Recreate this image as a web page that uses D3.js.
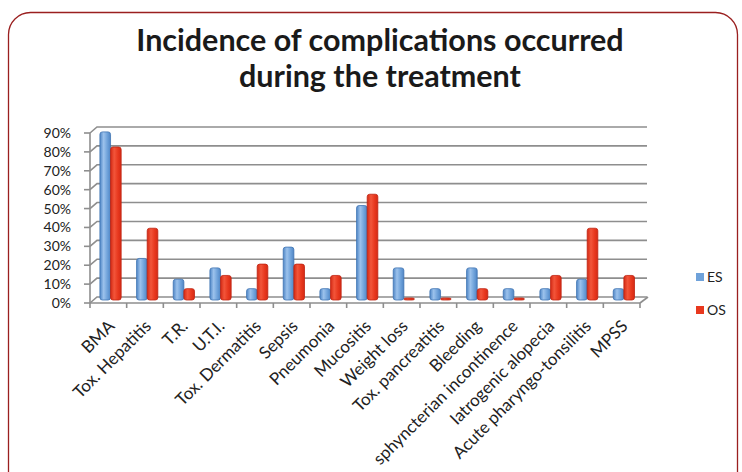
<!DOCTYPE html>
<html>
<head>
<meta charset="utf-8">
<script src="https://cdn.jsdelivr.net/npm/d3@7"></script>
<style>
  html, body { margin: 0; padding: 0; background: #fff; }
  svg { display: block; }
</style>
</head>
<body>
<script>
// Complication categories and incidence per group (fractions)
const categories = [
  "BMA", "Tox. Hepatitis", "T.R.", "U.T.I.", "Tox. Dermatitis", "Sepsis",
  "Pneumonia", "Mucositis", "Weight loss", "Tox. pancreatitis", "Bleeding",
  "sphyncterian incontinence", "Iatrogenic alopecia", "Acute pharyngo-tonsilitis", "MPSS"
];
const seriesNames = ["ES", "OS"];
const esValues = [0.89, 0.22, 0.11, 0.17, 0.06, 0.28, 0.06, 0.50, 0.17, 0.06, 0.17, 0.06, 0.06, 0.11, 0.06];
const osValues = [0.81, 0.38, 0.06, 0.13, 0.19, 0.19, 0.13, 0.56, 0.00, 0.00, 0.06, 0.00, 0.13, 0.38, 0.13];
const yTicks = [0, 0.1, 0.2, 0.3, 0.4, 0.5, 0.6, 0.7, 0.8, 0.9];
const titleLines = ["Incidence of complications occurred", "during the treatment"];

const W = 742, H = 472;
const svg = d3.select("body").append("svg").attr("width", W).attr("height", H);

// Frame
svg.append("rect")
  .attr("x", 8.5).attr("y", 12.5).attr("width", 729).attr("height", 500)
  .attr("rx", 22).attr("ry", 22)
  .attr("fill", "#fff").attr("stroke", "#9a1f1f").attr("stroke-width", 1.3);

// Title
svg.append("g").selectAll("text").data(titleLines).join("text")
  .attr("x", 380).attr("y", (d, i) => 51 + i * 36)
  .attr("text-anchor", "middle")
  .attr("font-family", "Lato, 'Open Sans', sans-serif")
  .attr("font-weight", "bold").attr("font-size", 30.5)
  .attr("fill", "#1a1a1a")
  .text(d => d);

// Scales
const x = d3.scaleBand().domain(categories).range([90, 640]).paddingInner(0).paddingOuter(0);
const y = d3.scaleLinear().domain([0, 0.9]).range([300, 130]);
const depthX = 7, depthY = -3; // back wall offset
const frontY = 3;               // front edge offset

const defs = svg.append("defs");
function cyl(id, edge, mid, light) {
  const g = defs.append("linearGradient").attr("id", id).attr("x1", 0).attr("x2", 1).attr("y1", 0).attr("y2", 0);
  g.append("stop").attr("offset", "0%").attr("stop-color", edge);
  g.append("stop").attr("offset", "35%").attr("stop-color", light);
  g.append("stop").attr("offset", "70%").attr("stop-color", mid);
  g.append("stop").attr("offset", "100%").attr("stop-color", edge);
}
cyl("gES", "#4f86c6", "#6fa2da", "#9cc2ec");
cyl("gOS", "#d42a14", "#e8381e", "#f2553a");
const fills = { ES: "url(#gES)", OS: "url(#gOS)" };
const strokes = { ES: "#3f74b3", OS: "#bf2311" };
const swatch = { ES: "#6fa2da", OS: "#e8381e" };

// Back wall gridlines with side-wall diagonal
const grid = svg.append("g").attr("stroke", "#8e8e8e").attr("stroke-width", 1.6).attr("fill", "none");
yTicks.forEach(v => {
  const gy = y(v) + depthY;
  grid.append("polyline")
    .attr("points", [[90, y(v) + frontY], [90 + depthX, gy], [x.range()[1] + depthX, gy]].map(p => p.join(",")).join(" "));
});

// Value axis (left edge) and ticks
const axis = svg.append("g").attr("stroke", "#8e8e8e").attr("stroke-width", 1.6);
axis.append("line").attr("x1", 90).attr("x2", 90).attr("y1", y(0.9) + frontY).attr("y2", y(0) + frontY);
yTicks.forEach(v => {
  axis.append("line").attr("x1", 84).attr("x2", 90).attr("y1", y(v) + frontY).attr("y2", y(v) + frontY);
});
svg.append("g").selectAll("text").data(yTicks).join("text")
  .attr("x", 71).attr("y", v => y(v) + frontY).attr("dy", "0.36em")
  .attr("text-anchor", "end")
  .attr("font-family", "Lato, 'Open Sans', sans-serif").attr("font-size", 14)
  .attr("fill", "#222")
  .text(d3.format(".0%"));

// Floor front edge, category ticks, right-hand floor diagonal
const floorY = y(0) + frontY;
axis.append("line").attr("x1", 90).attr("x2", x.range()[1]).attr("y1", floorY).attr("y2", floorY);
categories.concat([null]).forEach((c, i) => {
  const tx = c === null ? x.range()[1] : x(c);
  axis.append("line").attr("x1", tx).attr("x2", tx).attr("y1", floorY).attr("y2", floorY + 5);
});
axis.append("line").attr("x1", x.range()[1]).attr("x2", x.range()[1] + depthX + 1)
  .attr("y1", floorY).attr("y2", y(0) + depthY);

// Bars
const bw = x.bandwidth();
const barData = [];
categories.forEach((c, i) => {
  barData.push({ c, s: "ES", v: esValues[i], off: 0.27 });
  barData.push({ c, s: "OS", v: osValues[i], off: 0.56 });
});
svg.append("g").selectAll("rect").data(barData).join("rect")
  .attr("x", d => x(d.c) + bw * d.off)
  .attr("width", bw * 0.29)
  .attr("y", d => Math.min(y(d.v), y(0) - 2))
  .attr("height", d => Math.max(y(0) - y(d.v), 2))
  .attr("rx", 2.5).attr("ry", 2.5)
  .attr("fill", d => fills[d.s])
  .attr("stroke", d => strokes[d.s]).attr("stroke-width", 0.8);

// Category labels
svg.append("g").selectAll("text").data(categories).join("text")
  .attr("transform", c => `translate(${x(c) + bw / 2 + 3},${floorY + 20}) rotate(-45)`)
  .attr("text-anchor", "end").attr("dy", "0.35em")
  .attr("font-family", "Lato, 'Open Sans', sans-serif").attr("font-size", 17)
  .attr("fill", "#222")
  .text(c => c);

// Legend
const leg = svg.append("g").selectAll("g").data(seriesNames).join("g")
  .attr("transform", (d, i) => `translate(696,${277 + i * 33})`);
leg.append("rect").attr("x", 0).attr("y", -4).attr("width", 8).attr("height", 8).attr("fill", d => swatch[d]);
leg.append("text").attr("x", 11).attr("dy", "0.36em")
  .attr("font-family", "Lato, 'Open Sans', sans-serif").attr("font-size", 14)
  .attr("fill", "#222").text(d => d);
</script>
</body>
</html>
